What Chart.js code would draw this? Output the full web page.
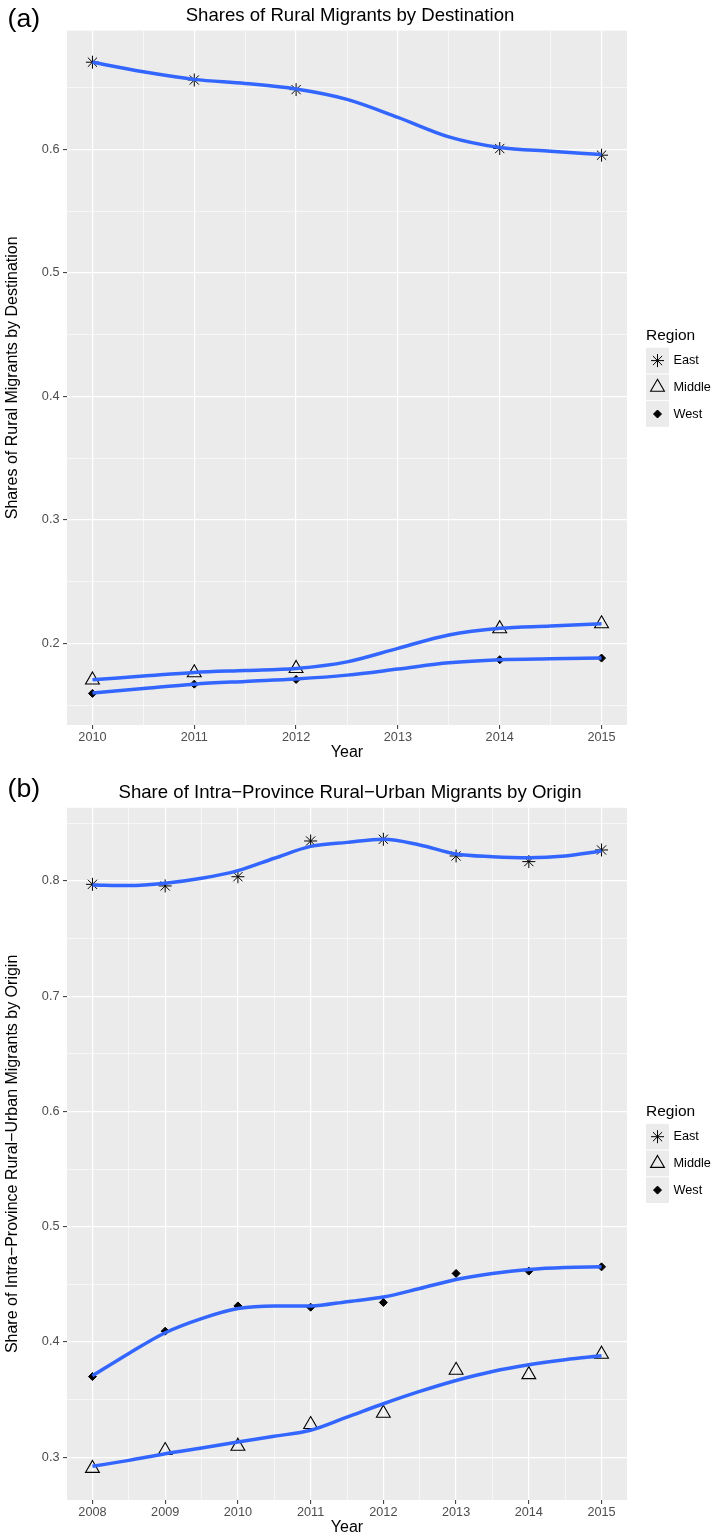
<!DOCTYPE html>
<html>
<head>
<meta charset="utf-8">
<script src="https://cdn.jsdelivr.net/npm/chart.js@4.4.1/dist/chart.umd.min.js"></script>
<style>
  html, body { margin: 0; padding: 0; background: #fff; overflow: hidden; }
  #wrap { position: relative; width: 713px; height: 1537px; overflow: hidden; }
  canvas { position: absolute; left: 0; }
</style>
</head>
<body>
<div id="wrap">
  <canvas id="chartA" width="713" height="768" style="top:0"></canvas>
  <canvas id="chartB" width="713" height="775" style="top:768px"></canvas>
</div>
<script>
// (a) shares by destination
const yearsA = [2010, 2011, 2012, 2014, 2015];
const eastA = [0.6707, 0.6563, 0.6485, 0.6008, 0.5954];
const middleA = [0.1704, 0.1762, 0.1797, 0.2119, 0.2159];
const westA = [0.1595, 0.1670, 0.1708, 0.1868, 0.1881];
const fitYearsA = [2010, 2010.5, 2011, 2011.5, 2012, 2012.5, 2013, 2013.5, 2014, 2014.5, 2015];
const eastFitA = [0.6706, 0.6629, 0.6568, 0.6535, 0.6490, 0.6406, 0.6260, 0.6102, 0.6016, 0.5986, 0.5959];
const middleFitA = [0.1705, 0.1735, 0.1765, 0.1781, 0.1797, 0.1850, 0.1960, 0.2068, 0.2122, 0.2140, 0.2160];
const westFitA = [0.1598, 0.1635, 0.1670, 0.1692, 0.1712, 0.1743, 0.1792, 0.1843, 0.1868, 0.1876, 0.1881];
const xTicksA = [2010, 2011, 2012, 2013, 2014, 2015];
const yTicksA = [0.2, 0.3, 0.4, 0.5, 0.6];

// (b) intra-province shares by origin
const yearsB = [2008, 2009, 2010, 2011, 2012, 2013, 2014, 2015];
const eastB = [0.7971, 0.7957, 0.8037, 0.8347, 0.8362, 0.8217, 0.8168, 0.8269];
const middleB = [0.2903, 0.3058, 0.3096, 0.3284, 0.3382, 0.3755, 0.3717, 0.3894];
const westB = [0.3700, 0.4094, 0.4313, 0.4302, 0.4343, 0.4595, 0.4615, 0.4652];
const fitYearsB = [2008, 2008.5, 2009, 2009.5, 2010, 2010.5, 2011, 2011.5, 2012, 2012.5, 2013, 2013.5, 2014, 2014.5, 2015];
const eastFitB = [0.7965, 0.7960, 0.7980, 0.8023, 0.8090, 0.8197, 0.8300, 0.8335, 0.8362, 0.8313, 0.8234, 0.8211, 0.8202, 0.8217, 0.8260];
const middleFitB = [0.2921, 0.2973, 0.3031, 0.3080, 0.3133, 0.3182, 0.3234, 0.3348, 0.3464, 0.3571, 0.3666, 0.3744, 0.3802, 0.3846, 0.3880];
const westFitB = [0.3706, 0.3900, 0.4080, 0.4203, 0.4290, 0.4313, 0.4313, 0.4350, 0.4390, 0.4464, 0.4542, 0.4595, 0.4630, 0.4647, 0.4652];
const xTicksB = [2008, 2009, 2010, 2011, 2012, 2013, 2014, 2015];
const yTicksB = [0.3, 0.4, 0.5, 0.6, 0.7, 0.8];

const regions = ['East', 'Middle', 'West'];
const FONT = '"Liberation Sans", Arial, sans-serif';
const BLUE = '#3366FF';

const pointStyles = {
  East: { pointStyle: 'star', pointRadius: 6.5, borderWidth: 1, backgroundColor: 'rgba(0,0,0,0)' },
  Middle: { pointStyle: 'triangle', pointRadius: 8, borderWidth: 1.1, backgroundColor: 'rgba(0,0,0,0)' },
  West: { pointStyle: 'rectRot', pointRadius: 4, borderWidth: 1, backgroundColor: '#000' }
};

// major ticks plus the half-way minor lines ggplot draws
function withMinor(majors, min, max) {
  const step = majors[1] - majors[0];
  const all = [];
  for (let i = -1; i < majors.length; i++) {
    const m = (i < 0 ? majors[0] - step : majors[i]);
    if (i >= 0) all.push(m);
    const mid = +(m + step / 2).toFixed(4);
    if (mid > min && mid < max) all.push(mid);
  }
  return all.sort((p, q) => p - q);
}

function isMajor(v, majors) {
  return majors.some(m => Math.abs(m - v) < 1e-6);
}

const panelDeco = {
  id: 'panelDeco',
  beforeDraw(chart) {
    const { ctx, chartArea: a } = chart;
    ctx.save();
    ctx.fillStyle = '#EBEBEB';
    ctx.fillRect(a.left, a.top, a.right - a.left, a.bottom - a.top);
    ctx.restore();
  },
  afterDraw(chart, args, o) {
    const { ctx, chartArea: a } = chart;
    ctx.save();
    ctx.fillStyle = '#000';
    ctx.textBaseline = 'alphabetic';
    ctx.textAlign = 'left';
    ctx.font = '26.7px ' + FONT;
    ctx.fillText(o.tag, 7.5, o.tagY);
    ctx.textAlign = 'center';
    ctx.font = '18.6px ' + FONT;
    ctx.fillText(o.title, (a.left + a.right) / 2 + 3, a.top - 9.5);

    // legend, centred on the panel
    const items = chart.data.datasets.filter(d => d.inLegend);
    const keyW = 23, keyH = 26.7, titleH = 20;
    const y0 = (a.top + a.bottom) / 2 - (titleH + items.length * keyH) / 2;
    const x0 = a.right + 19;
    ctx.textAlign = 'left';
    ctx.textBaseline = 'middle';
    ctx.font = '15.5px ' + FONT;
    ctx.fillText('Region', x0, y0 + 7.5);
    items.forEach((d, i) => {
      const ky = y0 + titleH + i * keyH;
      ctx.fillStyle = '#EBEBEB';
      ctx.fillRect(x0, ky, keyW, keyH - 1);
      ctx.fillStyle = d.backgroundColor;
      ctx.strokeStyle = '#000';
      ctx.lineWidth = d.borderWidth;
      Chart.helpers.drawPoint(ctx, { pointStyle: d.pointStyle, radius: d.pointRadius, borderWidth: d.borderWidth, rotation: 0 },
        x0 + keyW / 2, ky + keyH / 2 - 0.5);
      ctx.fillStyle = '#000';
      ctx.font = '12.7px ' + FONT;
      ctx.fillText(d.label, x0 + keyW + 4.5, ky + keyH / 2 - 0.5);
    });
    ctx.restore();
  }
};

function drawPanel(id, p) {
  const datasets = [];
  // smoothed lines first so they end up on top of the points
  regions.forEach(r => {
    datasets.push({
      label: r + ' fit',
      data: p.fitYears.map((x, i) => ({ x: x, y: p.fit[r][i] })),
      showLine: true,
      borderColor: BLUE,
      borderWidth: 3.5,
      pointRadius: 0,
      cubicInterpolationMode: 'monotone',
      fill: false
    });
  });
  regions.forEach(r => {
    datasets.push(Object.assign({
      label: r,
      inLegend: true,
      data: p.years.map((x, i) => ({ x: x, y: p.points[r][i] })),
      borderColor: '#000',
      pointHoverRadius: 0
    }, pointStyles[r]));
  });

  const xAll = withMinor(p.xTicks, p.xMin, p.xMax);
  const yAll = withMinor(p.yTicks, p.yMin, p.yMax);

  const gridFor = majors => ({
    color: '#FFFFFF',
    lineWidth: c => isMajor(c.tick.value, majors) ? 1.2 : 0.6,
    tickColor: c => isMajor(c.tick.value, majors) ? '#333333' : 'rgba(0,0,0,0)',
    tickWidth: 1,
    tickLength: 4,
    drawTicks: true
  });

  new Chart(document.getElementById(id), {
    type: 'scatter',
    data: { datasets: datasets },
    options: {
      responsive: false,
      animation: false,
      devicePixelRatio: 1,
      events: [],
      layout: { padding: { top: p.top, right: 86, bottom: 0, left: 0 } },
      plugins: {
        legend: { display: false },
        tooltip: { enabled: false },
        panelDeco: { tag: p.tag, tagY: p.tagY, title: p.title }
      },
      scales: {
        x: {
          type: 'linear',
          min: p.xMin,
          max: p.xMax,
          afterBuildTicks: s => { s.ticks = xAll.map(v => ({ value: v })); },
          afterFit: s => { s.height = 43; },
          border: { display: false },
          grid: gridFor(p.xTicks),
          ticks: {
            autoSkip: false,
            maxRotation: 0,
            padding: 1,
            color: '#4D4D4D',
            font: { family: FONT, size: 12.7 },
            callback: v => isMajor(v, p.xTicks) ? String(v) : ''
          },
          title: {
            display: true,
            text: 'Year',
            color: '#000',
            font: { family: FONT, size: 16, lineHeight: 1 },
            padding: { top: 0, bottom: 7 }
          }
        },
        y: {
          type: 'linear',
          min: p.yMin,
          max: p.yMax,
          afterBuildTicks: s => { s.ticks = yAll.map(v => ({ value: v })); },
          afterFit: s => { s.width = 67; },
          border: { display: false },
          grid: gridFor(p.yTicks),
          ticks: {
            autoSkip: false,
            padding: 3.5,
            color: '#4D4D4D',
            font: { family: FONT, size: 12.7 },
            callback: v => isMajor(v, p.yTicks) ? v.toFixed(1) : ''
          },
          title: {
            display: true,
            text: p.yTitle,
            color: '#000',
            font: { family: FONT, size: 16, lineHeight: 1 },
            padding: { top: 5, bottom: 0 }
          }
        }
      }
    },
    plugins: [panelDeco]
  });
}

drawPanel('chartA', {
  tag: '(a)', tagY: 27.3, top: 30.6,
  title: 'Shares of Rural Migrants by Destination',
  yTitle: 'Shares of Rural Migrants by Destination',
  xMin: 2009.75, xMax: 2015.25, yMin: 0.1339, yMax: 0.6963,
  xTicks: xTicksA, yTicks: yTicksA,
  years: yearsA,
  points: { East: eastA, Middle: middleA, West: westA },
  fitYears: fitYearsA,
  fit: { East: eastFitA, Middle: middleFitA, West: westFitA }
});

drawPanel('chartB', {
  tag: '(b)', tagY: 29.3, top: 39.8,
  title: 'Share of Intra\u2212Province Rural\u2212Urban Migrants by Origin',
  yTitle: 'Share of Intra\u2212Province Rural\u2212Urban Migrants by Origin',
  xMin: 2007.65, xMax: 2015.35, yMin: 0.2629, yMax: 0.8635,
  xTicks: xTicksB, yTicks: yTicksB,
  years: yearsB,
  points: { East: eastB, Middle: middleB, West: westB },
  fitYears: fitYearsB,
  fit: { East: eastFitB, Middle: middleFitB, West: westFitB }
});
</script>
</body>
</html>
